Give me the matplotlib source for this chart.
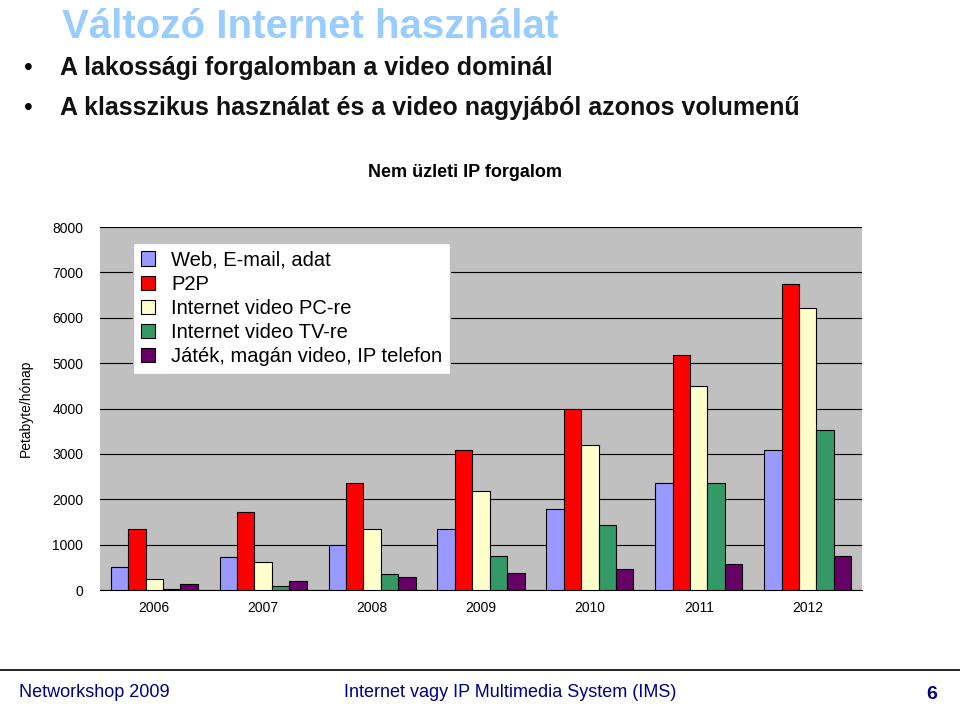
import numpy as np
import matplotlib.pyplot as plt
plt.rcParams.update({"font.family": "Liberation Sans"})

years = ["2006", "2007", "2008", "2009", "2010", "2011", "2012"]
web = [500, 730, 1000, 1350, 1780, 2350, 3080]
p2p = [1350, 1730, 2350, 3080, 4000, 5180, 6740]
pc_video = [250, 620, 1350, 2180, 3200, 4500, 6220]
tv_video = [30, 80, 350, 750, 1430, 2350, 3530]
game = [130, 200, 280, 370, 460, 580, 750]

labels = ["Web, E-mail, adat", "P2P", "Internet video PC-re",
          "Internet video TV-re", "Játék, magán video, IP telefon"]
colors = ["#9999ff", "#ff0000", "#ffffcc", "#339966", "#660066"]
series = [web, p2p, pc_video, tv_video, game]

fig = plt.figure(figsize=(9.6, 7.05), dpi=100)
ax = fig.add_axes([0.104, 0.163, 0.794, 0.515])
ax.set_facecolor("#c0c0c0")

x = np.arange(len(years))
w = 0.16
for i, (vals, c, lab) in enumerate(zip(series, colors, labels)):
    ax.bar(x + (i - 2) * w, vals, w, color=c, edgecolor="black", linewidth=0.8, label=lab, zorder=3)

ax.set_xlim(-0.5, len(years) - 0.5)
ax.set_ylim(0, 8000)
ax.set_yticks(range(0, 8001, 1000))
ax.set_xticks(x)
ax.set_xticklabels(years, fontsize=10)
ax.tick_params(axis="y", labelsize=10, length=0, pad=12)
ax.tick_params(axis="x", length=0, pad=8)
ax.grid(axis="y", color="black", linewidth=0.8, zorder=0)
for s in ["top", "right", "left"]:
    ax.spines[s].set_visible(False)
ax.set_ylabel("Petabyte/hónap", fontsize=10, labelpad=14)

leg = ax.legend(loc="upper left", bbox_to_anchor=(0.03, 0.985), fontsize=14.5, fancybox=False,
                framealpha=1, edgecolor="#c0c0c0", handlelength=0.7, handleheight=0.7,
                labelspacing=0.25, borderpad=0.4)

fig.text(0.065, 0.962, "Változó Internet használat", fontsize=29, color="#99ccff", weight="bold", va="center")
fig.text(0.025, 0.903, "•", fontsize=18, va="center")
fig.text(0.062, 0.903, "A lakossági forgalomban a video dominál", fontsize=18, weight="bold", va="center", color="#111111")
fig.text(0.025, 0.847, "•", fontsize=18, va="center")
fig.text(0.062, 0.847, "A klasszikus használat és a video nagyjából azonos volumenű", fontsize=18, weight="bold", va="center", color="#111111")
fig.text(0.484, 0.756, "Nem üzleti IP forgalom", fontsize=13, weight="bold", ha="center", va="center")

fig.add_artist(plt.Line2D([0, 1], [0.05, 0.05], color="black", linewidth=1.2))
fig.text(0.02, 0.018, "Networkshop 2009", fontsize=13, color="#000080", va="center")
fig.text(0.358, 0.018, "Internet vagy IP Multimedia System (IMS)", fontsize=13, color="#000080", va="center")
fig.text(0.965, 0.015, "6", fontsize=14, color="#000080", weight="bold", va="center")

fig.savefig("out.png")
